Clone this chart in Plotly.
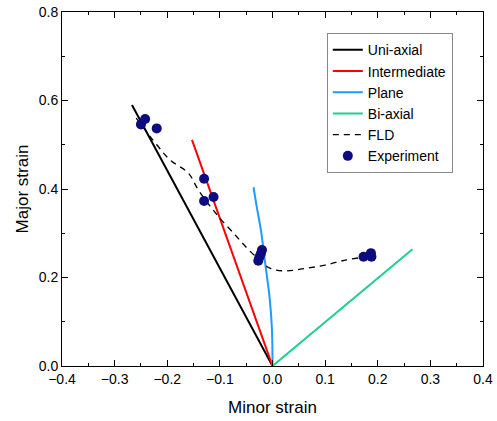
import plotly.graph_objects as go

# Data
uni_x = [0.0, -0.267]
uni_y = [0.0, 0.590]
inter_x = [0.0, -0.153]
inter_y = [0.0, 0.511]
plane_x = [0.0, -0.001, -0.005, -0.014, -0.022, -0.030, -0.036]
plane_y = [0.0, 0.081, 0.149, 0.233, 0.307, 0.360, 0.404]
biax_x = [0.0, 0.266]
biax_y = [0.0, 0.264]
fld_x = [-0.259, -0.22, -0.195, -0.160, -0.141, -0.105, -0.07, -0.045, -0.025, -0.005, 0.024, 0.06, 0.10, 0.141, 0.175, 0.194]
fld_y = [0.560, 0.50, 0.466, 0.436, 0.398, 0.341, 0.295, 0.262, 0.240, 0.221, 0.215, 0.220, 0.228, 0.240, 0.246, 0.249]
exp_x = [-0.250, -0.242, -0.220, -0.130, -0.112, -0.130, -0.020, -0.022, -0.025, -0.027, 0.173, 0.187, 0.188]
exp_y = [0.546, 0.558, 0.537, 0.423, 0.382, 0.373, 0.262, 0.254, 0.246, 0.238, 0.247, 0.255, 0.247]

FONT = "Liberation Sans, Arial"

fig = go.Figure()
fig.add_trace(go.Scatter(x=uni_x, y=uni_y, mode="lines", name="Uni-axial",
                         line=dict(color="black", width=2)))
fig.add_trace(go.Scatter(x=inter_x, y=inter_y, mode="lines", name="Intermediate",
                         line=dict(color="#ff0000", width=2)))
fig.add_trace(go.Scatter(x=plane_x, y=plane_y, mode="lines", name="Plane",
                         line=dict(color="#1e9bff", width=2, shape="spline")))
fig.add_trace(go.Scatter(x=biax_x, y=biax_y, mode="lines", name="Bi-axial",
                         line=dict(color="#1ecf8f", width=2)))
fig.add_trace(go.Scatter(x=fld_x, y=fld_y, mode="lines", name="FLD",
                         line=dict(color="black", width=1.3, dash="6px,5px", shape="spline")))
fig.add_trace(go.Scatter(x=exp_x, y=exp_y, mode="markers", name="Experiment",
                         marker=dict(color="#0c0c80", size=10)))

axis_common = dict(
    showline=True, linecolor="black", linewidth=1, mirror="ticks",
    ticks="inside", ticklen=6, tickwidth=1, tickcolor="black",
    showgrid=False, zeroline=False, automargin=False,
    ticklabeloverflow="allow",
    tickfont=dict(family=FONT, size=14, color="black"),
)
fig.update_xaxes(range=[-0.4, 0.4], dtick=0.1, tickformat=".1f",
                 minor=dict(ticks="inside", ticklen=3, dtick=0.05, tickcolor="black"),
                 title=dict(text="Minor strain", font=dict(family=FONT, size=17, color="black"), standoff=15),
                 **axis_common)
fig.update_yaxes(range=[0, 0.8], dtick=0.2, tickformat=".1f",
                 minor=dict(ticks="inside", ticklen=3, dtick=0.1, tickcolor="black"),
                 title=dict(text="Major strain", font=dict(family=FONT, size=17, color="black"), standoff=5),
                 **axis_common)

fig.update_layout(
    width=497, height=421,
    margin=dict(l=62, r=14, t=12, b=55),
    plot_bgcolor="white", paper_bgcolor="white",
    font=dict(family=FONT, color="black"),
    legend=dict(x=0.629, y=0.94, xanchor="left", yanchor="top",
                bordercolor="#888888", borderwidth=1, bgcolor="white",
                font=dict(size=14, family=FONT),
                tracegroupgap=0, itemwidth=30),
    showlegend=True,
)

fig.write_html("out.html", config={"displayModeBar": False},
               post_script="document.body.style.margin='0px';")
